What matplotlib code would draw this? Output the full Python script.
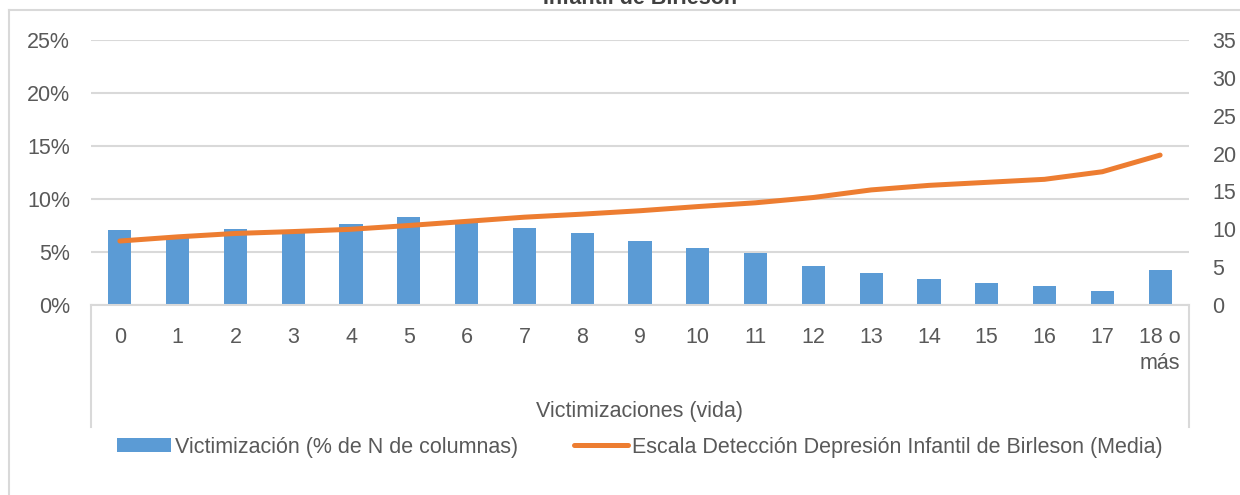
import numpy as np
import matplotlib.pyplot as plt
from matplotlib.lines import Line2D
from matplotlib.ticker import PercentFormatter

plt.rcParams['font.family'] = ['Liberation Sans', 'DejaVu Sans']

# datos
categorias = ["0", "1", "2", "3", "4", "5", "6", "7", "8", "9", "10",
              "11", "12", "13", "14", "15", "16", "17", "18 o\nmás"]
victimizacion = [7.1, 6.3, 7.2, 7.1, 7.6, 8.3, 7.9, 7.3, 6.8, 6.0, 5.35,
                 4.95, 3.7, 3.05, 2.45, 2.1, 1.75, 1.3, 3.3]
birleson = [8.45, 9.0, 9.45, 9.7, 10.0, 10.5, 11.05, 11.6, 12.0, 12.45, 13.0,
            13.5, 14.2, 15.2, 15.8, 16.2, 16.6, 17.6, 19.8]

gris = "#595959"
rejilla = "#D9D9D9"
azul = "#5B9BD5"
naranja = "#ED7D31"
fs = 15.5

fig = plt.figure(figsize=(12.4, 4.95), dpi=100)
ax = fig.add_axes([91 / 1240, 1 - 305 / 495, (1189 - 91) / 1240, 265 / 495])
ax2 = ax.twinx()

x = np.arange(len(categorias))
barras = ax.bar(x, victimizacion, width=0.4, color=azul, zorder=2,
                label="Victimización (% de N de columnas)")
linea, = ax2.plot(x, birleson, color=naranja, lw=3.6, solid_capstyle="round",
                  zorder=3, label="Escala Detección Depresión Infantil de Birleson (Media)")

ax.set_xlim(-0.5, len(categorias) - 0.5)
ax.set_ylim(0, 25)
ax.set_yticks(np.arange(0, 26, 5))
ax.yaxis.set_major_formatter(PercentFormatter(decimals=0))
ax2.set_ylim(0, 35)
ax2.set_yticks(np.arange(0, 36, 5))

ax.grid(axis="y", color=rejilla, lw=1.5, zorder=0)
ax.set_axisbelow(True)

for a in (ax, ax2):
    for s in a.spines.values():
        s.set_visible(False)
    a.tick_params(length=0, labelsize=fs, labelcolor=gris)

ax.spines["bottom"].set_visible(True)
ax.spines["bottom"].set_color(rejilla)
ax.spines["bottom"].set_linewidth(1.5)

ax.set_xticks(x)
ax.set_xticklabels(categorias)
ax.tick_params(axis="x", pad=16)
ax.tick_params(axis="y", pad=15)
ax2.tick_params(axis="y", pad=17)
for t in ax.get_xticklabels():
    t.set_linespacing(1.3)

# líneas verticales de la zona del eje de categorías
for xv in (0, 1):
    ax.plot([xv, xv], [0, -122 / 265], transform=ax.transAxes, color=rejilla,
            lw=1.5, clip_on=False)

ax.text(0.5, -(412 - 305) / 265, "Victimizaciones (vida)", transform=ax.transAxes,
        ha="center", va="center", fontsize=fs, color=gris)

fig.legend(handles=[barras, linea], loc="center", ncol=2,
           bbox_to_anchor=(640 / 1240, 1 - 447 / 495), frameon=False,
           fontsize=fs, labelcolor=gris, handlelength=2.5, handletextpad=0.2,
           columnspacing=2.6, handleheight=0.62)

# borde del gráfico
fig.add_artist(Line2D([9 / 1240, 9 / 1240], [0, 1 - 10 / 495], color=rejilla, lw=1.5))
fig.add_artist(Line2D([9 / 1240, 1], [1 - 10 / 495, 1 - 10 / 495], color=rejilla, lw=1.5))

# título (cortado en el borde superior, como en el original)
fig.text(640 / 1240, 1 - 4 / 495, "Infantil de Birleson", ha="center", va="baseline",
         fontsize=fs, fontweight="bold", color="#404040")

fig.savefig("out.png", dpi=100)
